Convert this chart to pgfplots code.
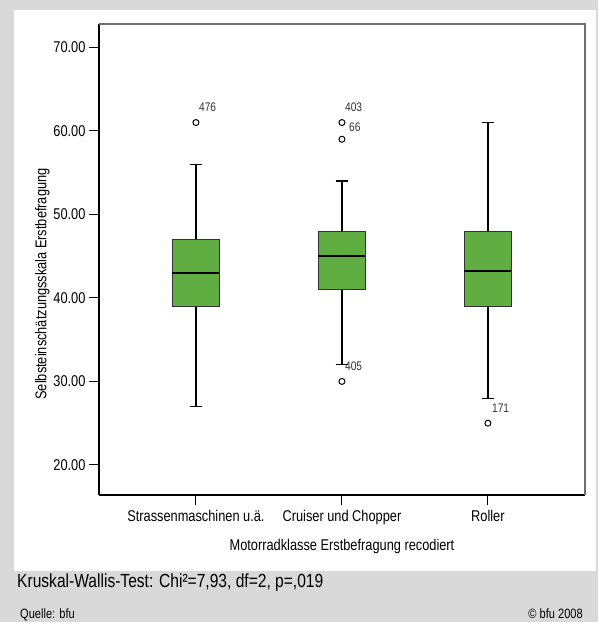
\documentclass[border=0pt]{standalone}
\usepackage{fontspec}
\setmainfont{Liberation Sans}[FakeStretch=0.82]
\usepackage{pgfplots}
\pgfplotsset{compat=1.18}
\usepgfplotslibrary{statistics}

\definecolor{panelgray}{RGB}{217,217,217}
\definecolor{boxgreen}{RGB}{96,173,66}
\definecolor{boxedge}{RGB}{51,51,51}
\definecolor{framegray}{RGB}{110,110,110}
\definecolor{idgray}{RGB}{51,51,51}

\newcommand{\mainsize}{\fontsize{15.6pt}{18pt}\selectfont}
\newcommand{\idsize}{\fontsize{12.4pt}{14pt}\selectfont}

\begin{document}
\begin{tikzpicture}
% page background and white chart panel
\fill[panelgray] (0pt,0pt) rectangle (598pt,-622pt);
\fill[white] (14pt,-10pt) rectangle (596pt,-571pt);

\begin{axis}[
  at={(99pt,-495pt)}, anchor=south west,
  scale only axis, width=486pt, height=471pt,
  xmin=0.336, xmax=3.665, ymin=16.4, ymax=72.8,
  axis x line*=bottom, axis y line*=left,
  axis line style={black, line width=1.2pt},
  tick align=outside, major tick length=10pt,
  tick style={black, line width=1pt},
  xtick={1,2,3},
  xticklabels={Strassenmaschinen u.ä., Cruiser und Chopper, Roller},
  ytick={20,30,40,50,60,70},
  yticklabel style={/pgf/number format/.cd, fixed, fixed zerofill, precision=2, assume math mode=true},
  ticklabel style={font=\mainsize},
  xticklabel style={yshift=-2pt},
  xlabel={Motorradklasse Erstbefragung recodiert},
  xlabel style={at={(axis description cs:0.5,-0.1168)}, anchor=base, font=\mainsize},
  ylabel={Selbsteinschätzungsskala Erstbefragung},
  ylabel style={at={(axis description cs:-0.1165,0.448)}, anchor=center, font=\mainsize},
  boxplot/draw direction=y,
  boxplot/every box/.style={draw=boxedge, fill=boxgreen, line width=1.1pt},
  boxplot/every whisker/.style={draw=black, line width=1.2pt},
  boxplot/every median/.style={draw=black, line width=2pt},
  clip=false,
  after end axis/.code={
    \draw[framegray, line width=1.2pt] (rel axis cs:0,1) -- (rel axis cs:1,1) -- (rel axis cs:1,0);
  },
]

% Strassenmaschinen u.ä.
\addplot[draw=black, boxplot prepared={draw position=1,
  lower whisker=27, lower quartile=39, median=43,
  upper quartile=47, upper whisker=56,
  box extend=0.322, whisker extend=0.085}] coordinates {};

% Cruiser und Chopper
\addplot[draw=black, boxplot prepared={draw position=2,
  lower whisker=32, lower quartile=41, median=45,
  upper quartile=48, upper whisker=54,
  box extend=0.322, whisker extend=0.085}] coordinates {};

% Roller
\addplot[draw=black, boxplot prepared={draw position=3,
  lower whisker=28, lower quartile=39, median=43.25,
  upper quartile=48, upper whisker=61,
  box extend=0.322, whisker extend=0.085}] coordinates {};

% outliers
\addplot[only marks, mark=o, mark size=3pt, black, mark options={line width=1pt}]
  coordinates {(1,61) (2,61) (2,59) (2,30) (3,25)};

% case numbers of the outliers
\node[anchor=west, inner sep=0pt, font=\idsize, text=idgray, xshift=3pt, yshift=15.5pt] at (axis cs:1,61) {476};
\node[anchor=west, inner sep=0pt, font=\idsize, text=idgray, xshift=3pt, yshift=15.5pt] at (axis cs:2,61) {403};
\node[anchor=west, inner sep=0pt, font=\idsize, text=idgray, xshift=7pt, yshift=-4.5pt] at (axis cs:2,61) {66};
\node[anchor=west, inner sep=0pt, font=\idsize, text=idgray, xshift=3pt, yshift=15.7pt] at (axis cs:2,30) {405};
\node[anchor=west, inner sep=0pt, font=\idsize, text=idgray, xshift=4pt, yshift=15.3pt] at (axis cs:3,25) {171};
\end{axis}

% test statistic and footer
\node[anchor=base west, inner sep=0pt, font=\fontsize{19pt}{22pt}\selectfont] at (17pt,-587pt) {Kruskal-Wallis-Test: Chi²=7,93, df=2, p=,019};
\node[anchor=base west, inner sep=0pt, font=\fontsize{13.5pt}{15pt}\selectfont] at (20pt,-618pt) {Quelle: bfu};
\node[anchor=base east, inner sep=0pt, font=\fontsize{13.5pt}{15pt}\selectfont] at (583pt,-618pt) {© bfu 2008};
\end{tikzpicture}
\end{document}
